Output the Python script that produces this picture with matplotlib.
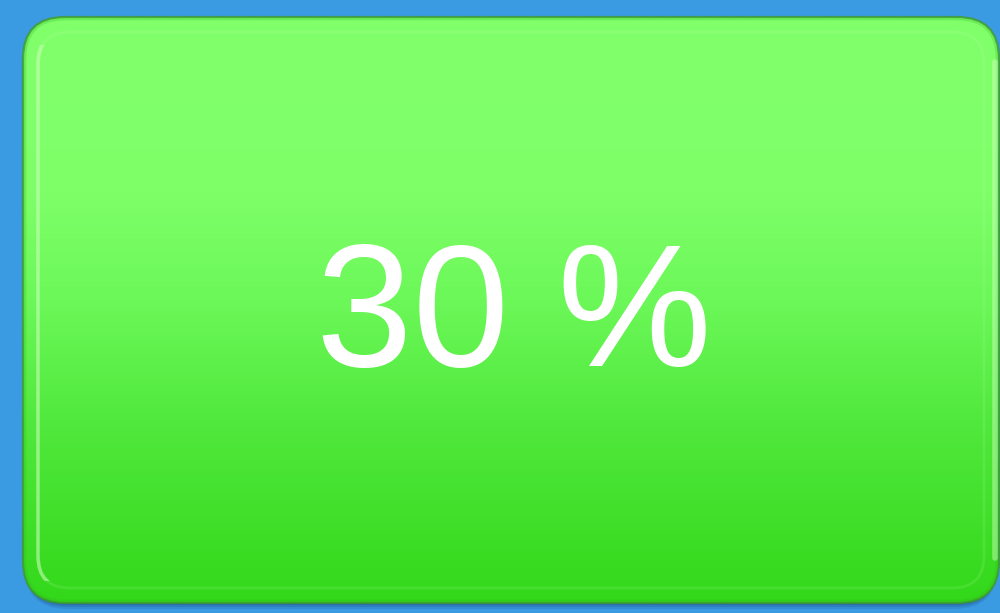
import matplotlib
matplotlib.use("Agg")
import matplotlib.pyplot as plt
import numpy as np
from matplotlib.patches import FancyBboxPatch, Rectangle
from matplotlib.colors import LinearSegmentedColormap

# data
values = [30]
labels = ["30 %"]

W, H = 1000, 613
fig = plt.figure(figsize=(10, 6.13), dpi=100)
fig.patch.set_facecolor("#3a9ae2")
ax = fig.add_axes([0, 0, 1, 1])
ax.set_xlim(0, W)
ax.set_ylim(H, 0)
ax.axis("off")
ax.set_facecolor("#3a9ae2")

x0, y0, x1, y1 = 23, 17, 999, 603
r = 42

# shadow
for i, a in enumerate([0.12, 0.16, 0.22]):
    off = 6 - i * 2
    sh = FancyBboxPatch((x0 + 2, y0 + off), (x1 - x0) - 4, (y1 - y0),
                        boxstyle=f"round,pad=0,rounding_size={r}",
                        fc="#0f3560", ec="none", alpha=a, zorder=1)
    ax.add_patch(sh)

cmap = LinearSegmentedColormap.from_list(
    "g", [(0.0, "#82ff6c"), (0.30, "#7eff68"), (0.48, "#6cf859"),
          (0.70, "#50e83c"), (1.0, "#33d81a")])
grad = np.linspace(0, 1, 512).reshape(-1, 1)
im = ax.imshow(grad, cmap=cmap, extent=[x0, x1, y1, y0], aspect="auto",
               zorder=2, interpolation="bilinear")
clip = FancyBboxPatch((x0, y0), x1 - x0, y1 - y0,
                      boxstyle=f"round,pad=0,rounding_size={r}",
                      fc="none", ec="none", transform=ax.transData)
ax.add_patch(clip)
im.set_clip_path(clip)

# outer border
box = FancyBboxPatch((x0, y0), x1 - x0, y1 - y0,
                     boxstyle=f"round,pad=0,rounding_size={r}",
                     fc="none", ec="#3f9a2e", lw=1.6, alpha=0.8, zorder=3)
ax.add_patch(box)
ring = FancyBboxPatch((x0 + 2, y0 + 2), x1 - x0 - 4, y1 - y0 - 4,
                      boxstyle=f"round,pad=0,rounding_size={r-2}",
                      fc="none", ec="#2fb81c", lw=2, alpha=0.25, zorder=3)
ax.add_patch(ring)

# faint inner highlight ring
inset = 15
hl = FancyBboxPatch((x0 + inset, y0 + inset), x1 - x0 - 2 * inset, y1 - y0 - 2 * inset,
                    boxstyle=f"round,pad=0,rounding_size={r-10}",
                    fc="none", ec="#b8ffa0", lw=2.0, alpha=0.15, zorder=3)
ax.add_patch(hl)

# stronger highlight on left side, following the corners
hl_left = FancyBboxPatch((x0 + inset, y0 + inset), x1 - x0 - 2 * inset, y1 - y0 - 2 * inset,
                         boxstyle=f"round,pad=0,rounding_size={r-10}",
                         fc="none", ec="#d0ffc0", lw=2.6, alpha=0.5, zorder=4)
ax.add_patch(hl_left)
clip_rect = Rectangle((0, y0 + 28), x0 + 45, y1 - y0 - 50, transform=ax.transData)
hl_left.set_clip_path(clip_rect)

# right outer light edge
ax.plot([x1 - 4, x1 - 4], [y0 + 45, y1 - 45], color="#d8ffc8", lw=4,
        alpha=0.45, solid_capstyle="round", zorder=4)

ax.text(514, 366, labels[0], color="white", fontsize=125,
        family=["Liberation Sans", "DejaVu Sans"],
        ha="center", va="baseline", zorder=5)

fig.savefig("out.png", dpi=100, facecolor=fig.get_facecolor())
